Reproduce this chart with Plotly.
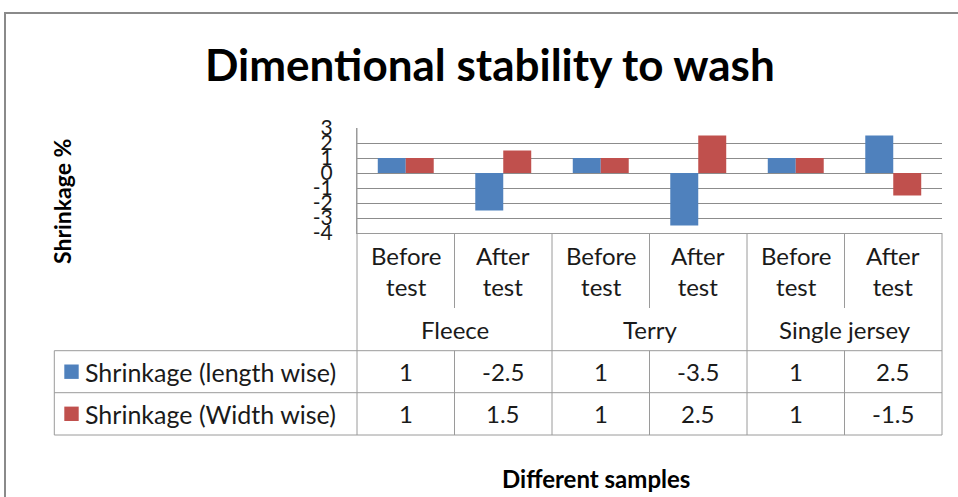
import plotly.graph_objects as go

# ---- data ----
groups = ["Fleece", "Terry", "Single jersey"]
stages = ["Before test", "After test"]
series_names = ["Shrinkage (length wise)", "Shrinkage (Width wise)"]
length_wise = [1, -2.5, 1, -3.5, 1, 2.5]
width_wise = [1, 1.5, 1, 2.5, 1, -1.5]
y_ticks = [3, 2, 1, 0, -1, -2, -3, -4]

colors = ["#4F81BD", "#C0504D"]
FONT = "Lato"
TXT = "#1a1a1a"
LINE = "#9a9a9a"

W, H = 958, 497
L, R, T, B = 357, 16, 128, 264
PW = W - L - R
PH = H - T - B
PLOT_BOTTOM = H - B


def px_x(px):
    return (px - L) / PW


def px_y(py):
    return (PLOT_BOTTOM - py) / PH


n = len(length_wise)
xs = list(range(n))
cat_labels = [stages[i % 2] for i in range(n)]

fig = go.Figure()
for name, vals, c in zip(series_names, [length_wise, width_wise], colors):
    fig.add_trace(go.Bar(x=xs, y=vals, name=name, marker=dict(color=c, line=dict(width=0)),
                         showlegend=False))

shapes = []
ann = []

def hline(py, px0, px1):
    shapes.append(dict(type="line", xref="paper", yref="paper", x0=px_x(px0), x1=px_x(px1),
                       y0=px_y(py), y1=px_y(py), line=dict(color=LINE, width=1)))

def vline(px, py0, py1):
    shapes.append(dict(type="line", xref="paper", yref="paper", x0=px_x(px), x1=px_x(px),
                       y0=px_y(py0), y1=px_y(py1), line=dict(color=LINE, width=1)))

TOP_T = PLOT_BOTTOM
CAT_END = 308
ROW1 = 350.7
ROW2 = 392.7
ROW3 = 435
LEG_L = 54.3
RIGHT = L + PW

# outer frame
shapes.append(dict(type="rect", xref="paper", yref="paper", x0=px_x(5), x1=px_x(W + 20),
                   y0=px_y(13), y1=px_y(H + 20), line=dict(color="#8a8a8a", width=2)))

# table lines
vline(L, T, ROW3)
vline(RIGHT, TOP_T, ROW3)
for k in range(1, n):
    bx = L + PW * k / n
    if k % 2 == 0:
        vline(bx, TOP_T, ROW3)
    else:
        vline(bx, TOP_T, CAT_END)
        vline(bx, ROW1, ROW3)
vline(LEG_L, ROW1, ROW3)
hline(ROW1, LEG_L, RIGHT)
hline(ROW2, LEG_L, RIGHT)
hline(ROW3, LEG_L, RIGHT)

# category labels
for i, lab in enumerate(cat_labels):
    ann.append(dict(x=i, y=px_y(271), xref="x", yref="paper", text=lab.replace(" ", "<br>"),
                    showarrow=False, font=dict(family=FONT, size=24, color=TXT),
                    xanchor="center", yanchor="middle"))
for g, gname in enumerate(groups):
    ann.append(dict(x=2 * g + 0.5, y=px_y(329), xref="x", yref="paper", text=gname,
                    showarrow=False, font=dict(family=FONT, size=24, color=TXT),
                    xanchor="center", yanchor="middle"))

# data rows
row_centers = [371.7, 413.8]
for r, (name, vals, c) in enumerate(zip(series_names, [length_wise, width_wise], colors)):
    cy = row_centers[r]
    shapes.append(dict(type="rect", xref="paper", yref="paper", x0=px_x(64.3), x1=px_x(78.7),
                       y0=px_y(cy - 7.2), y1=px_y(cy + 7.2), fillcolor=c, line=dict(width=0)))
    ann.append(dict(x=px_x(83), y=px_y(cy), xref="paper", yref="paper", text=name,
                    showarrow=False, font=dict(family=FONT, size=25, color=TXT),
                    xanchor="left", yanchor="middle"))
    for i, v in enumerate(vals):
        ann.append(dict(x=i, y=px_y(cy), xref="x", yref="paper", text=f"{v:g}",
                        showarrow=False, font=dict(family=FONT, size=24, color=TXT),
                        xanchor="center", yanchor="middle"))

# titles
ann.append(dict(x=px_x(490), y=px_y(64), xref="paper", yref="paper",
                text="<b>Dimentional stability to wash</b>", showarrow=False,
                font=dict(family=FONT, size=44, color="#000"), xanchor="center", yanchor="middle"))
ann.append(dict(x=px_x(62), y=px_y(202), xref="paper", yref="paper",
                text="<b>Shrinkage %</b>", showarrow=False, textangle=-90,
                font=dict(family=FONT, size=23, color="#000"), xanchor="center", yanchor="middle"))
ann.append(dict(x=px_x(596), y=px_y(478), xref="paper", yref="paper",
                text="<b>Different samples</b>", showarrow=False,
                font=dict(family=FONT, size=24, color="#000"), xanchor="center", yanchor="middle"))

fig.update_layout(
    width=W, height=H,
    margin=dict(l=L, r=R, t=T, b=B, autoexpand=False),
    paper_bgcolor="white", plot_bgcolor="white",
    barmode="group", bargap=0.426, bargroupgap=0,
    shapes=shapes, annotations=ann,
    xaxis=dict(range=[-0.5, n - 0.5], showticklabels=False, showgrid=False, zeroline=False,
               showline=True, linecolor=LINE, linewidth=1, fixedrange=True),
    yaxis=dict(range=[-4, 3], tickvals=y_ticks, ticktext=[str(t) for t in y_ticks],
               showgrid=True, gridcolor="#8c8c8c", gridwidth=1, zeroline=False,
               showline=True, linecolor=LINE, linewidth=1, ticks="",
               ticklabelstandoff=19,
               tickfont=dict(family=FONT, size=21, color=TXT), fixedrange=True),
    font=dict(family=FONT),
)

fig.write_html("out.html", config=dict(displayModeBar=False, staticPlot=True),
               post_script="document.body.style.margin='0px';document.body.style.overflow='hidden';")
